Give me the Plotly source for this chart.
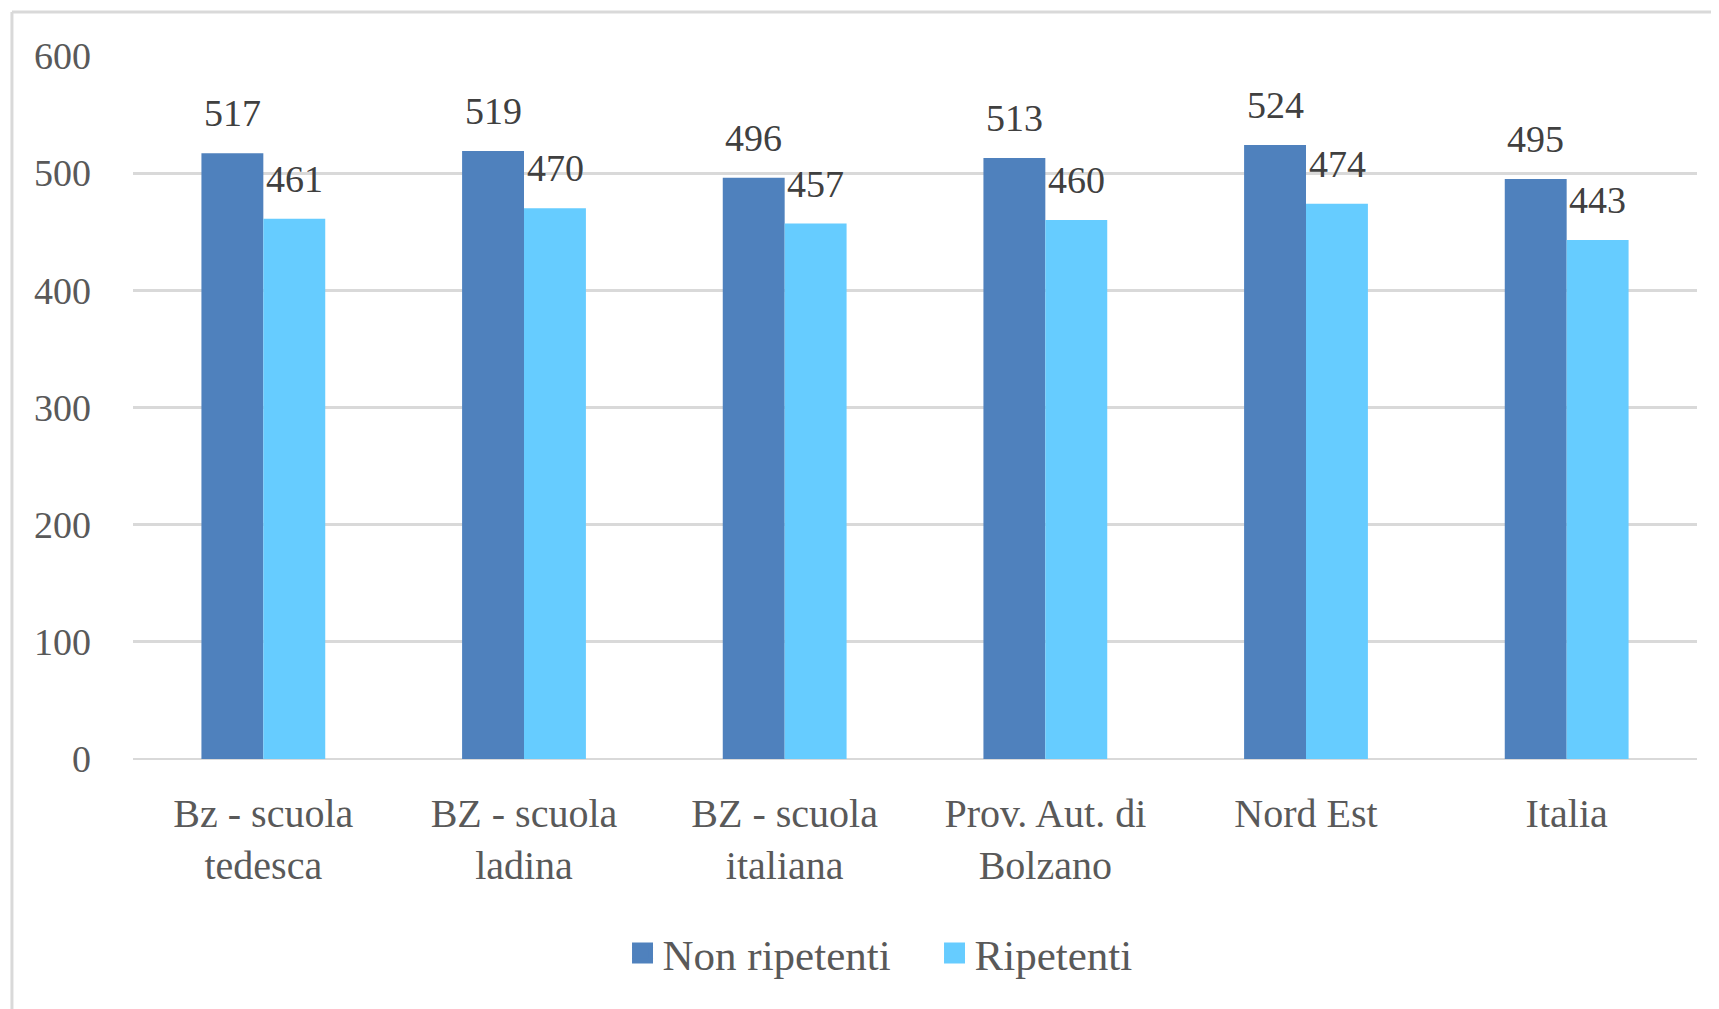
import plotly.graph_objects as go

categories = [
    "Bz - scuola<br>tedesca",
    "BZ - scuola<br>ladina",
    "BZ - scuola<br>italiana",
    "Prov. Aut. di<br>Bolzano",
    "Nord Est",
    "Italia",
]
non_ripetenti = [517, 519, 496, 513, 524, 495]
ripetenti = [461, 470, 457, 460, 474, 443]
y_ticks = [0, 100, 200, 300, 400, 500, 600]
series_names = ["Non ripetenti", "Ripetenti"]

FONT = "Liberation Serif"
DARK = "#4F81BD"
LIGHT = "#66CCFF"
GRID = "#D9D9D9"

fig = go.Figure()
for name, vals, col in zip(series_names, (non_ripetenti, ripetenti), (DARK, LIGHT)):
    fig.add_trace(go.Bar(x=categories, y=vals, name=name, showlegend=False,
                         marker=dict(color=col, line=dict(width=0))))

# legend-only traces so the swatches can be bigger than the bar default
for name, col in zip(series_names, (DARK, LIGHT)):
    fig.add_trace(go.Scatter(
        x=[None], y=[None], mode="markers", name=name,
        marker=dict(symbol="square", size=16, color=col, line=dict(color=col, width=5)),
    ))

# data labels, lifted above each bar like the original
for series, shift in ((non_ripetenti, -31), (ripetenti, 31)):
    for cat, val in zip(categories, series):
        fig.add_annotation(
            x=cat, y=val, text=str(val), showarrow=False,
            xshift=shift, yshift=17, yanchor="bottom",
            font=dict(family=FONT, size=38, color="#404040"),
        )

# outer frame (left + top only visible in the original)
fig.add_shape(type="line", xref="paper", yref="paper",
              x0=-0.0774, x1=-0.0774, y0=-0.37, y1=1.0626,
              line=dict(color=GRID, width=3))
fig.add_shape(type="line", xref="paper", yref="paper",
              x0=-0.0774, x1=1.02, y0=1.0626, y1=1.0626,
              line=dict(color=GRID, width=3))

fig.update_xaxes(
    showline=False, showgrid=False, ticks="",
    tickfont=dict(family=FONT, size=40, color="#595959"),
    ticklabelstandoff=27,
)
fig.update_yaxes(
    range=[0, 600], tickvals=y_ticks,
    showgrid=True, gridcolor=GRID, gridwidth=3,
    zeroline=True, zerolinecolor=GRID, zerolinewidth=2,
    showline=False, ticks="",
    tickfont=dict(family=FONT, size=38, color="#595959"),
    ticklabelstandoff=41,
)
# page body adds 8px, so the figure is 8px smaller and shifted accordingly
fig.update_layout(
    width=1711, height=1001,
    margin=dict(l=125, r=22, t=48, b=250),
    barmode="group", bargap=0.525, bargroupgap=0,
    plot_bgcolor="white", paper_bgcolor="white",
    showlegend=True,
    legend=dict(
        orientation="h", x=0.313, xanchor="left", y=-0.276, yanchor="middle",
        font=dict(family=FONT, size=43, color="#595959"),
        entrywidth=267, itemclick=False,
    ),
)

fig.write_html("out.html")
